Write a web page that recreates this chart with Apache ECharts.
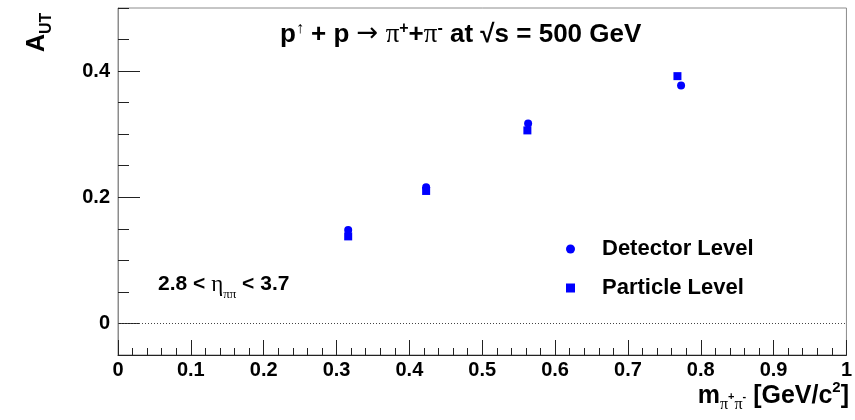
<!DOCTYPE html>
<html>
<head>
<meta charset="utf-8">
<script src="https://cdn.jsdelivr.net/npm/echarts@6/dist/echarts.min.js"></script>
<style>html,body{margin:0;padding:0;background:#fff}#c{width:855px;height:420px}</style>
</head>
<body>
<div id="c"></div>
<script>
// Data
var detectorX = [0.316, 0.423, 0.563, 0.773];
var detectorY = [0.148, 0.216, 0.317, 0.377];
var particleX = [0.316, 0.423, 0.562, 0.768];
var particleY = [0.138, 0.210, 0.306, 0.392];
var yMajorTicks = [0, 0.2, 0.4];
var yMinorTicks = [-0.05, 0, 0.05, 0.1, 0.15, 0.2, 0.25, 0.3, 0.35, 0.4, 0.45, 0.5];
var seriesNames = ['Detector Level', 'Particle Level'];

function pairs(xs, ys) { return xs.map(function (x, i) { return [x, ys[i]]; }); }

var F = '"Liberation Sans", Arial, sans-serif';
var G = '"Liberation Serif", "Times New Roman", serif';
var chart = echarts.init(document.getElementById('c'), null, {renderer: 'canvas'});
var yFmt = function (v) { return Math.abs(v) < 1e-9 ? '0' : String(Math.round(v * 10) / 10); };

chart.setOption({
  animation: false,
  backgroundColor: '#fff',
  grid: {left: 118, right: 7, top: 8, bottom: 65, show: true, borderColor: '#8c8c8c', borderWidth: 1},
  xAxis: {
    type: 'value', min: 0, max: 1, interval: 0.1,
    axisLine: {onZero: false, lineStyle: {color: '#222', width: 1}},
    axisTick: {inside: true, length: 15, lineStyle: {color: '#222'}},
    minorTick: {show: true, splitNumber: 5, length: 7, lineStyle: {color: '#222'}},
    splitLine: {show: false},
    axisLabel: {color: '#000', fontFamily: F, fontWeight: 'bold', fontSize: 20, margin: 5,
      formatter: function (v) { return Math.abs(v) < 1e-9 ? '0' : (Math.abs(v - 1) < 1e-9 ? '1' : v.toFixed(1)); }}
  },
  yAxis: [{
    type: 'value', min: -0.05, max: 0.5,
    axisLine: {onZero: false, lineStyle: {color: '#8c8c8c'}},
    axisTick: {inside: true, length: 22, customValues: yMajorTicks, lineStyle: {color: '#222'}},
    splitLine: {show: false},
    axisLabel: {customValues: yMajorTicks, color: '#000', fontFamily: F, fontWeight: 'bold', fontSize: 20, margin: 8, formatter: yFmt}
  }, {
    type: 'value', min: -0.05, max: 0.5, position: 'left',
    axisLine: {show: false},
    axisTick: {inside: true, length: 11, customValues: yMinorTicks, lineStyle: {color: '#222'}},
    splitLine: {show: false},
    axisLabel: {show: false}
  }],
  legend: {
    orient: 'vertical', left: 561, top: 233, itemGap: 17,
    itemWidth: 9, itemHeight: 9,
    textStyle: {color: '#000', fontFamily: F, fontWeight: 'bold', fontSize: 22, padding: [0, 0, 0, 22]},
    data: [{name: seriesNames[0], icon: 'circle'}, {name: seriesNames[1], icon: 'rect'}]
  },
  series: [{
    name: seriesNames[0], type: 'scatter', symbol: 'circle', symbolSize: 8,
    itemStyle: {color: '#0000ff', opacity: 1}, data: pairs(detectorX, detectorY), z: 3,
    markLine: {silent: true, symbol: 'none', label: {show: false},
      lineStyle: {color: '#444', type: [1, 2], width: 1}, data: [{yAxis: 0}]}
  }, {
    name: seriesNames[1], type: 'scatter', symbol: 'rect', symbolSize: 8,
    itemStyle: {color: '#0000ff', opacity: 1}, data: pairs(particleX, particleY), z: 2
  }],
  graphic: [
    {type: 'text', left: 280, top: 21, style: {
      text: 'p{sup|↑} + p {arr|→} {g|π}{sup|+}+{g|π}{sup|-} at √s = 500 GeV',
      font: 'bold 26px ' + F, fill: '#000',
      rich: {
        sup: {fontSize: 16, fontFamily: F, fontWeight: 'bold', verticalAlign: 'top', lineHeight: 26, fill: '#000'},
        arr: {fontSize: 26, fontFamily: '"DejaVu Sans", sans-serif', fontWeight: 'normal', fill: '#000'},
        g: {fontSize: 27, fontFamily: G, fontWeight: 'normal', fill: '#000'}
      }}},
    {type: 'text', left: 158, top: 273, style: {
      text: '2.8 < {g|η}{sub|ππ} < 3.7',
      font: 'bold 21px ' + F, fill: '#000',
      rich: {
        g: {fontSize: 23, fontFamily: G, fontWeight: 'normal', fill: '#000'},
        sub: {fontSize: 13, fontFamily: G, verticalAlign: 'bottom', lineHeight: 34, fill: '#000'}
      }}},
    {type: 'text', x: 19, y: 52, rotation: Math.PI / 2, style: {
      text: 'A{sub|UT}', font: 'bold 25px ' + F, fill: '#000',
      rich: {sub: {fontSize: 16, fontFamily: F, fontWeight: 'bold', verticalAlign: 'bottom', lineHeight: 36, fill: '#000'}}
    }},
    {type: 'text', right: 6, top: 380, style: {
      text: 'm{sub|π}{ssub|+}{sub|π}{ssub|-} [GeV/c{sup|2}]', font: 'bold 25px ' + F, fill: '#000',
      rich: {
        sub: {fontSize: 16, fontFamily: G, verticalAlign: 'bottom', lineHeight: 33, fill: '#000'},
        ssub: {fontSize: 11, fontFamily: F, fontWeight: 'bold', verticalAlign: 'middle', lineHeight: 33, fill: '#000'},
        sup: {fontSize: 15, fontFamily: F, fontWeight: 'bold', verticalAlign: 'top', lineHeight: 27, fill: '#000'}
      }}}
  ]
});
</script>
</body>
</html>
